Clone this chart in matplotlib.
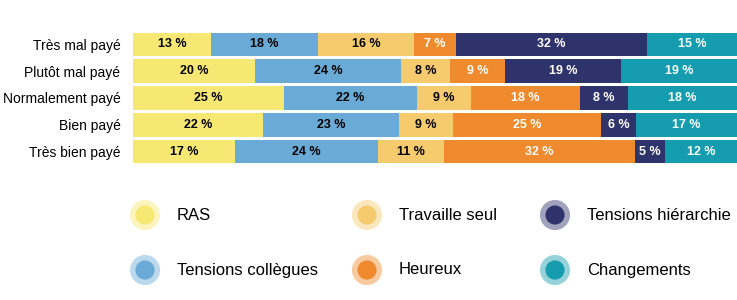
import numpy as np
import matplotlib
matplotlib.use("Agg")
import matplotlib.pyplot as plt

plt.rcParams['font.family'] = ['Liberation Sans Narrow', 'Liberation Sans', 'DejaVu Sans']

# data
categories = ["Très mal payé", "Plutôt mal payé", "Normalement payé", "Bien payé", "Très bien payé"]
series_names = ["RAS", "Tensions collègues", "Travaille seul", "Heureux", "Tensions hiérarchie", "Changements"]
ras = [13, 20, 25, 22, 17]
tensions_collegues = [18, 24, 22, 23, 24]
travaille_seul = [16, 8, 9, 9, 11]
heureux = [7, 9, 18, 25, 32]
tensions_hierarchie = [32, 19, 8, 6, 5]
changements = [15, 19, 18, 17, 12]

colors = ["#F7E873", "#6AAAD6", "#F6CB6E", "#EF8A2E", "#2F336B", "#159DAF"]
text_colors = ["black", "black", "black", "white", "white", "white"]

values = np.array([ras, tensions_collegues, travaille_seul, heureux, tensions_hierarchie, changements], dtype=float)
totals = values.sum(axis=0)
shares = values / totals * 100

fig = plt.figure(figsize=(7.37, 3.0), dpi=100)
ax = fig.add_axes([133 / 737, 1 - 165 / 300, 1 - 133 / 737, 134 / 300])

y = np.arange(len(categories))
left = np.zeros(len(categories))
for i in range(len(series_names)):
    ax.barh(y, shares[i], left=left, height=0.88, color=colors[i], edgecolor="none")
    for j in range(len(categories)):
        ax.text(left[j] + shares[i][j] / 2, y[j], f"{int(values[i][j])} %",
                ha="center", va="center", fontsize=9, fontweight="bold",
                color=text_colors[i])
    left += shares[i]

ax.set_xlim(0, 100)
ax.set_ylim(len(categories) - 0.5, -0.5)
ax.set_yticks(y)
ax.set_yticklabels(categories, fontsize=10)
ax.tick_params(axis="y", length=0, pad=9)
ax.set_xticks([])
for s in ax.spines.values():
    s.set_visible(False)

# legend drawn by hand, circles with halo
lax = fig.add_axes([0, 0, 1, 1])
lax.set_xlim(0, 737)
lax.set_ylim(300, 0)
lax.axis("off")
legend_order = [0, 2, 4, 1, 3, 5]
xs = [145, 367, 555]
ys = [215, 270]
for k, idx in enumerate(legend_order):
    cx = xs[k % 3]
    cy = ys[k // 3]
    lax.scatter([cx], [cy], s=470, color=colors[idx], alpha=0.45, edgecolors="none")
    lax.scatter([cx], [cy], s=190, color=colors[idx], edgecolors="none")
    lax.text(cx + 32, cy, series_names[idx], ha="left", va="center", fontsize=12)

fig.savefig("out.png", dpi=100)
